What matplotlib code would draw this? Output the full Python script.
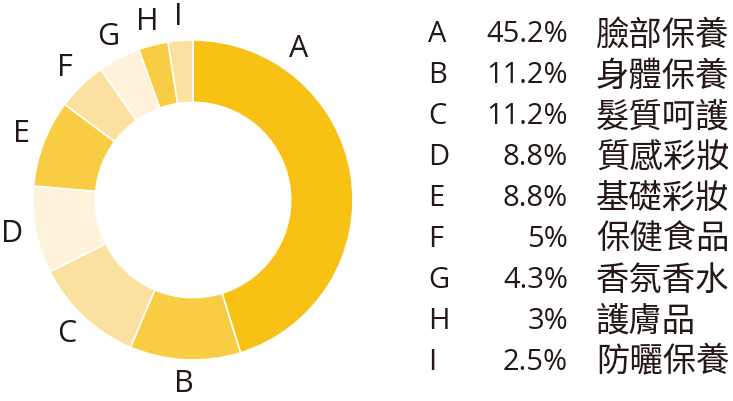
import matplotlib
matplotlib.use('Agg')
import matplotlib.pyplot as plt
import numpy as np

plt.rcParams['font.family'] = ['Open Sans', 'Noto Sans CJK TC', 'DejaVu Sans']

# 資料
letters = ['A', 'B', 'C', 'D', 'E', 'F', 'G', 'H', 'I']
values = [45.2, 11.2, 11.2, 8.8, 8.8, 5, 4.3, 3, 2.5]
pct_labels = ['45.2%', '11.2%', '11.2%', '8.8%', '8.8%', '5%', '4.3%', '3%', '2.5%']
names = ['臉部保養', '身體保養', '髮質呵護', '質感彩妝', '基礎彩妝',
         '保健食品', '香氛香水', '護膚品', '防曬保養']
colors = ['#F8C214', '#F9CD43', '#FBE09F', '#FEF2DA', '#F9CD43',
          '#FBE09F', '#FEF2DA', '#F9CD43', '#FBE09F']
txt_color = '#231815'

W, H = 733, 401
fig = plt.figure(figsize=(W / 100, H / 100), dpi=100)
fig.set_facecolor('white')

# 甜甜圈圖
ax = fig.add_axes([1 / W, 9 / H, 384 / W, 384 / H])
wedges, _ = ax.pie(values, colors=colors, startangle=90, counterclock=False,
                   radius=1.0, wedgeprops=dict(width=0.39, edgecolor='white', linewidth=1.2))
ax.set_xlim(-1.2, 1.2)
ax.set_ylim(-1.2, 1.2)
ax.set_aspect('equal')
ax.axis('off')

for i, w in enumerate(wedges):
    ang = (w.theta1 + w.theta2) / 2
    if i == 0:
        ang = 90 - 35  # A 的標籤放在右上
    r = 1.15
    x = r * np.cos(np.radians(ang))
    y = r * np.sin(np.radians(ang))
    ax.text(x, y, letters[i], ha='center', va='center', fontsize=22, color=txt_color)

# 右側列表
y0, step = 35, 40.9
for i in range(len(letters)):
    yy = 1 - (y0 + i * step) / H
    fig.text(428 / W, yy, letters[i], ha='left', va='center', fontsize=21, color=txt_color)
    fig.text(568 / W, yy, pct_labels[i], ha='right', va='center', fontsize=21, color=txt_color)
    fig.text(596 / W, yy, names[i], ha='left', va='center', fontsize=24, color=txt_color,
             family=['Noto Sans CJK TC'])

fig.savefig('out.png', dpi=100)
